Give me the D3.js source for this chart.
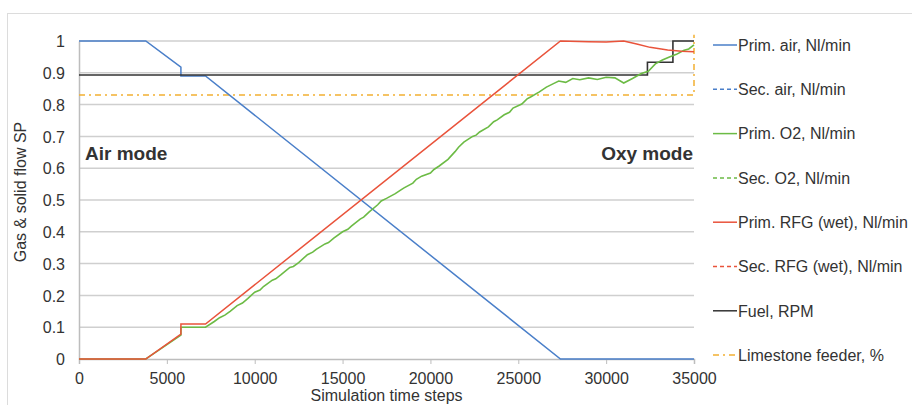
<!DOCTYPE html>
<html lang="en">
<head>
<meta charset="utf-8">
<title>Gas & solid flow SP</title>
<style>
    body { margin: 0; background: #fff; }
    text { font-family: "Liberation Sans", Arial, sans-serif; fill: #333; }
</style>
</head>
<body>
<div id="chart"></div>
<script src="https://cdn.jsdelivr.net/npm/d3@7"></script>
<script>

// series as [step, value] pairs
var primAir = [ [0,1], [3800,1], [5800,0.918], [5800,0.89], [7200,0.89], [27400,0], [35000,0] ];

var primO2 = [ [0,0], [3800,0], [5800,0.075], [5800,0.1], [7200,0.1], [7700,0.118], [8000,0.13], [8300,0.138], [8600,0.15],
    [9000,0.168], [9300,0.176], [9600,0.19], [10000,0.21], [10300,0.217], [10500,0.228], [11000,0.248], [11200,0.252], [11500,0.265],
    [12000,0.288], [12200,0.291], [12500,0.303], [13000,0.328], [13300,0.336], [13500,0.345], [14000,0.362], [14200,0.366], [14500,0.38],
    [15000,0.4], [15300,0.408], [15500,0.418], [16000,0.44], [16200,0.446], [16500,0.462], [17000,0.485], [17200,0.497], [17500,0.505],
    [18000,0.52], [18300,0.531], [18500,0.538], [19000,0.553], [19200,0.565], [19500,0.575], [20000,0.585], [20200,0.596], [20500,0.607],
    [21000,0.628], [21400,0.652], [21600,0.666], [21900,0.682], [22400,0.7], [22600,0.704], [22800,0.714], [23300,0.73],
    [23600,0.746], [23800,0.752], [24200,0.768], [24500,0.776], [24700,0.789], [25200,0.802], [25500,0.818], [25700,0.824], [26200,0.84],
    [26600,0.855], [27000,0.866], [27300,0.874], [27700,0.87], [28100,0.882], [28500,0.878],
    [29000,0.884], [29500,0.879], [30000,0.886], [30500,0.884], [31000,0.868], [31500,0.882],
    [32000,0.898], [32400,0.905], [32800,0.928], [33200,0.94], [33600,0.95], [34000,0.958],
    [34400,0.97], [34700,0.975], [35000,0.988] ];

var primRFG = [ [0,0], [3800,0], [5800,0.078], [5800,0.11], [7200,0.11], [27400,1], [29000,0.998],
    [30000,0.997], [31000,1.0], [31800,0.99], [32500,0.98], [33500,0.972], [34300,0.968], [35000,0.966] ];

var fuel = [ [0,0.893], [32350,0.893], [32350,0.933], [33800,0.933], [33800,1], [35000,1] ];

var limestone = [ [0,0.83], [35000,0.83], [35000,1.02] ];

var xTicks = [0, 5000, 10000, 15000, 20000, 25000, 30000, 35000];
var yTicks = [0, 0.1, 0.2, 0.3, 0.4, 0.5, 0.6, 0.7, 0.8, 0.9, 1];

var legendNames = [ "Prim. air, Nl/min", "Sec. air, Nl/min", "Prim. O2, Nl/min", "Sec. O2, Nl/min",
    "Prim. RFG (wet), Nl/min", "Sec. RFG (wet), Nl/min", "Fuel, RPM", "Limestone feeder, %" ];
var legendColors = [ "#4a7fc9", "#4a7fc9", "#6cbb45", "#6cbb45", "#e9533b", "#e9533b", "#333333", "#f2b032" ];
var legendDash = [ null, "4,3", null, "4,3", null, "4,3", null, "6,4,2,4" ];

var width = 912, height = 405;

var svg = d3.select( "#chart" ).append( "svg" )
    .attr( "width" , width )
    .attr( "height" , height );

// outer chart frame
svg.append( "rect" )
    .attr( "x" , 7.5 ).attr( "y" , 13.5 )
    .attr( "width" , 930 ).attr( "height" , 420 )
    .attr( "fill" , "none" )
    .attr( "stroke" , "#dcdcdc" );

var x = d3.scaleLinear().domain( [0, 35000] ).range( [79, 694] );
var y = d3.scaleLinear().domain( [0, 1] ).range( [359, 41] );

// gridlines
svg.append( "g" ).selectAll( "line" )
    .data( yTicks.filter( function( d ) { return d > 0; } ) )
    .enter().append( "line" )
        .attr( "x1" , x( 0 ) ).attr( "x2" , x( 35000 ) )
        .attr( "y1" , function( d ) { return y( d ); } )
        .attr( "y2" , function( d ) { return y( d ); } )
        .attr( "stroke" , "#cfcfcf" )
        .attr( "stroke-width" , 1.5 );

// axes
var xAxis = svg.append( "g" )
    .attr( "transform" , "translate(0," + y( 0 ) + ")" )
    .call( d3.axisBottom( x ).tickValues( xTicks ).tickSize( 5 ).tickPadding( 9 ).tickFormat( d3.format( "d" ) ) );

var yAxis = svg.append( "g" )
    .attr( "transform" , "translate(" + x( 0 ) + ",0)" )
    .call( d3.axisLeft( y ).tickValues( yTicks ).tickSize( 0 ).tickPadding( 14 )
        .tickFormat( function( d ) { return d === 0 || d === 1 ? d : d.toFixed( 1 ); } ) );

[ xAxis, yAxis ].forEach( function( a ) {
    a.select( ".domain" ).attr( "stroke" , "#bdbdbd" ).attr( "stroke-width" , 1.5 );
    a.selectAll( ".tick line" ).attr( "stroke" , "#bdbdbd" );
    a.selectAll( ".tick text" )
        .style( "font-family" , "Liberation Sans, Arial, sans-serif" )
        .style( "font-size" , "16px" )
        .attr( "fill" , "#333" );
} );
yAxis.selectAll( ".tick text" ).attr( "dy" , "0.36em" );

// axis titles
svg.append( "text" )
    .attr( "x" , ( x( 0 ) + x( 35000 ) ) / 2 )
    .attr( "y" , 401 )
    .attr( "text-anchor" , "middle" )
    .style( "font-size" , "16px" )
    .text( "Simulation time steps" );

svg.append( "text" )
    .attr( "transform" , "translate(26,192) rotate(-90)" )
    .attr( "text-anchor" , "middle" )
    .style( "font-size" , "16px" )
    .text( "Gas & solid flow SP" );

// series lines
var line = d3.line()
    .x( function( d ) { return x( d[0] ); } )
    .y( function( d ) { return y( d[1] ); } );

var series = [
    { data : limestone, color : legendColors[7], dash : "6,4,2,4", w : 1.5 },
    { data : primAir, color : legendColors[0], dash : null, w : 1.5 },
    { data : fuel, color : legendColors[6], dash : null, w : 1.6 },
    { data : primO2, color : legendColors[2], dash : null, w : 1.6 },
    { data : primRFG, color : legendColors[4], dash : null, w : 1.5 }
];

svg.append( "g" ).selectAll( "path" )
    .data( series )
    .enter().append( "path" )
        .attr( "d" , function( d ) { return line( d.data ); } )
        .attr( "fill" , "none" )
        .attr( "stroke" , function( d ) { return d.color; } )
        .attr( "stroke-width" , function( d ) { return d.w; } )
        .attr( "stroke-dasharray" , function( d ) { return d.dash; } );

// mode labels
svg.append( "text" )
    .attr( "x" , 85 ).attr( "y" , 160 )
    .style( "font-size" , "19px" ).style( "font-weight" , "bold" )
    .text( "Air mode" );

svg.append( "text" )
    .attr( "x" , 693 ).attr( "y" , 160 )
    .attr( "text-anchor" , "end" )
    .style( "font-size" , "19px" ).style( "font-weight" , "bold" )
    .text( "Oxy mode" );

// legend
var legend = svg.append( "g" ).selectAll( "g" )
    .data( legendNames )
    .enter().append( "g" )
        .attr( "transform" , function( d, i ) { return "translate(713," + ( 45 + i * 44.3 ) + ")"; } );

legend.append( "line" )
    .attr( "x1" , 0 ).attr( "x2" , 24 )
    .attr( "y1" , 0 ).attr( "y2" , 0 )
    .attr( "stroke" , function( d, i ) { return legendColors[i]; } )
    .attr( "stroke-width" , 1.5 )
    .attr( "stroke-dasharray" , function( d, i ) { return legendDash[i]; } );

legend.append( "text" )
    .attr( "x" , 25 ).attr( "y" , 0 )
    .attr( "dy" , "0.36em" )
    .style( "font-size" , "16px" )
    .text( function( d ) { return d; } );

</script>
</body>
</html>
